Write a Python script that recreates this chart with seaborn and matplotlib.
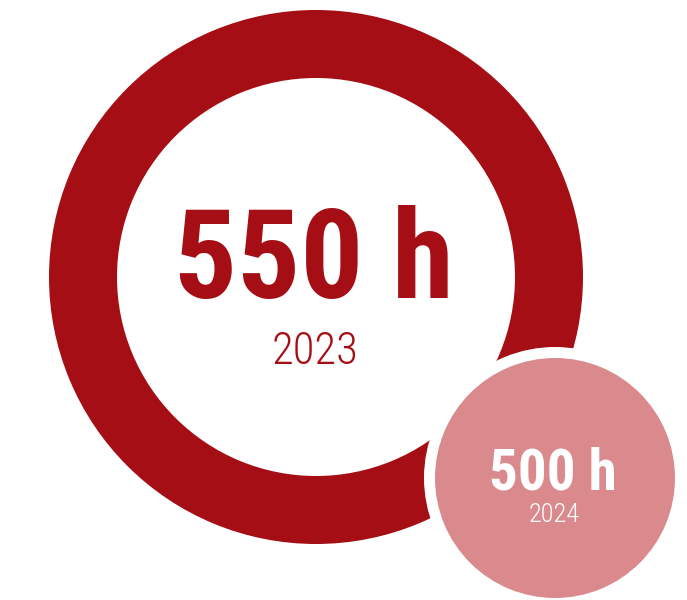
import os
import matplotlib
matplotlib.use("Agg")
import matplotlib.pyplot as plt
from matplotlib import font_manager as fm
import seaborn as sns

# Hours per year
years = ["2023", "2024"]
hours = [550, 500]
labels = [f"{h} h" for h in hours]

DARK = "#A50E15"
LIGHT = "#DA8A8D"

sns.set_theme(style="white")
plt.rcParams["font.family"] = ["DejaVu Sans"]


def pick_font(preferred, weight):
    """Return FontProperties for the first installed file in `preferred`."""
    files = {os.path.basename(f.fname).lower(): f.fname for f in fm.fontManager.ttflist}
    for name in preferred:
        for base, path in files.items():
            if base.startswith(name.lower()):
                return fm.FontProperties(fname=path)
    return fm.FontProperties(family="DejaVu Sans", weight=weight)


bold_font = pick_font(["RobotoCondensed-Bold.", "OpenSans-CondensedBold.",
                       "OpenSansCondensed-Bold.", "LiberationSansNarrow-Bold.",
                       "DejaVuSansCondensed-Bold."],
                      "bold")
light_font = pick_font(["RobotoCondensed-Light.", "OpenSansCondensed-Light.",
                        "OpenSans-CondensedLight.", "LiberationSansNarrow-Regular.",
                        "DejaVuSansCondensed."],
                       "light")

fig = plt.figure(figsize=(6.87, 6.00), dpi=100)
ax = fig.add_axes([0, 0, 1, 1])

# Large ring for the first year
ax.pie([hours[0]], colors=[DARK], radius=267, center=(316, 277),
       startangle=90, wedgeprops=dict(width=68, linewidth=0))
# White halo that separates the small disc from the ring
ax.pie([hours[1]], colors=["white"], radius=131, center=(555, 478),
       startangle=90, wedgeprops=dict(linewidth=0))
# Small disc for the second year
ax.pie([hours[1]], colors=[LIGHT], radius=120, center=(555, 478),
       startangle=90, wedgeprops=dict(linewidth=0))

ax.text(314, 298, labels[0], color=DARK, fontproperties=bold_font, fontsize=90,
        ha="center", va="baseline")
ax.text(315, 364, years[0], color=DARK, fontproperties=light_font, fontsize=32,
        ha="center", va="baseline")
ax.text(553, 489, labels[1], color="white", fontproperties=bold_font, fontsize=41,
        ha="center", va="baseline")
ax.text(554, 522, years[1], color="white", fontproperties=light_font, fontsize=19,
        ha="center", va="baseline")

ax.set_xlim(0, 687)
ax.set_ylim(600, 0)
ax.set_aspect("auto")
ax.axis("off")

fig.savefig("out.png", dpi=100, facecolor="white")
